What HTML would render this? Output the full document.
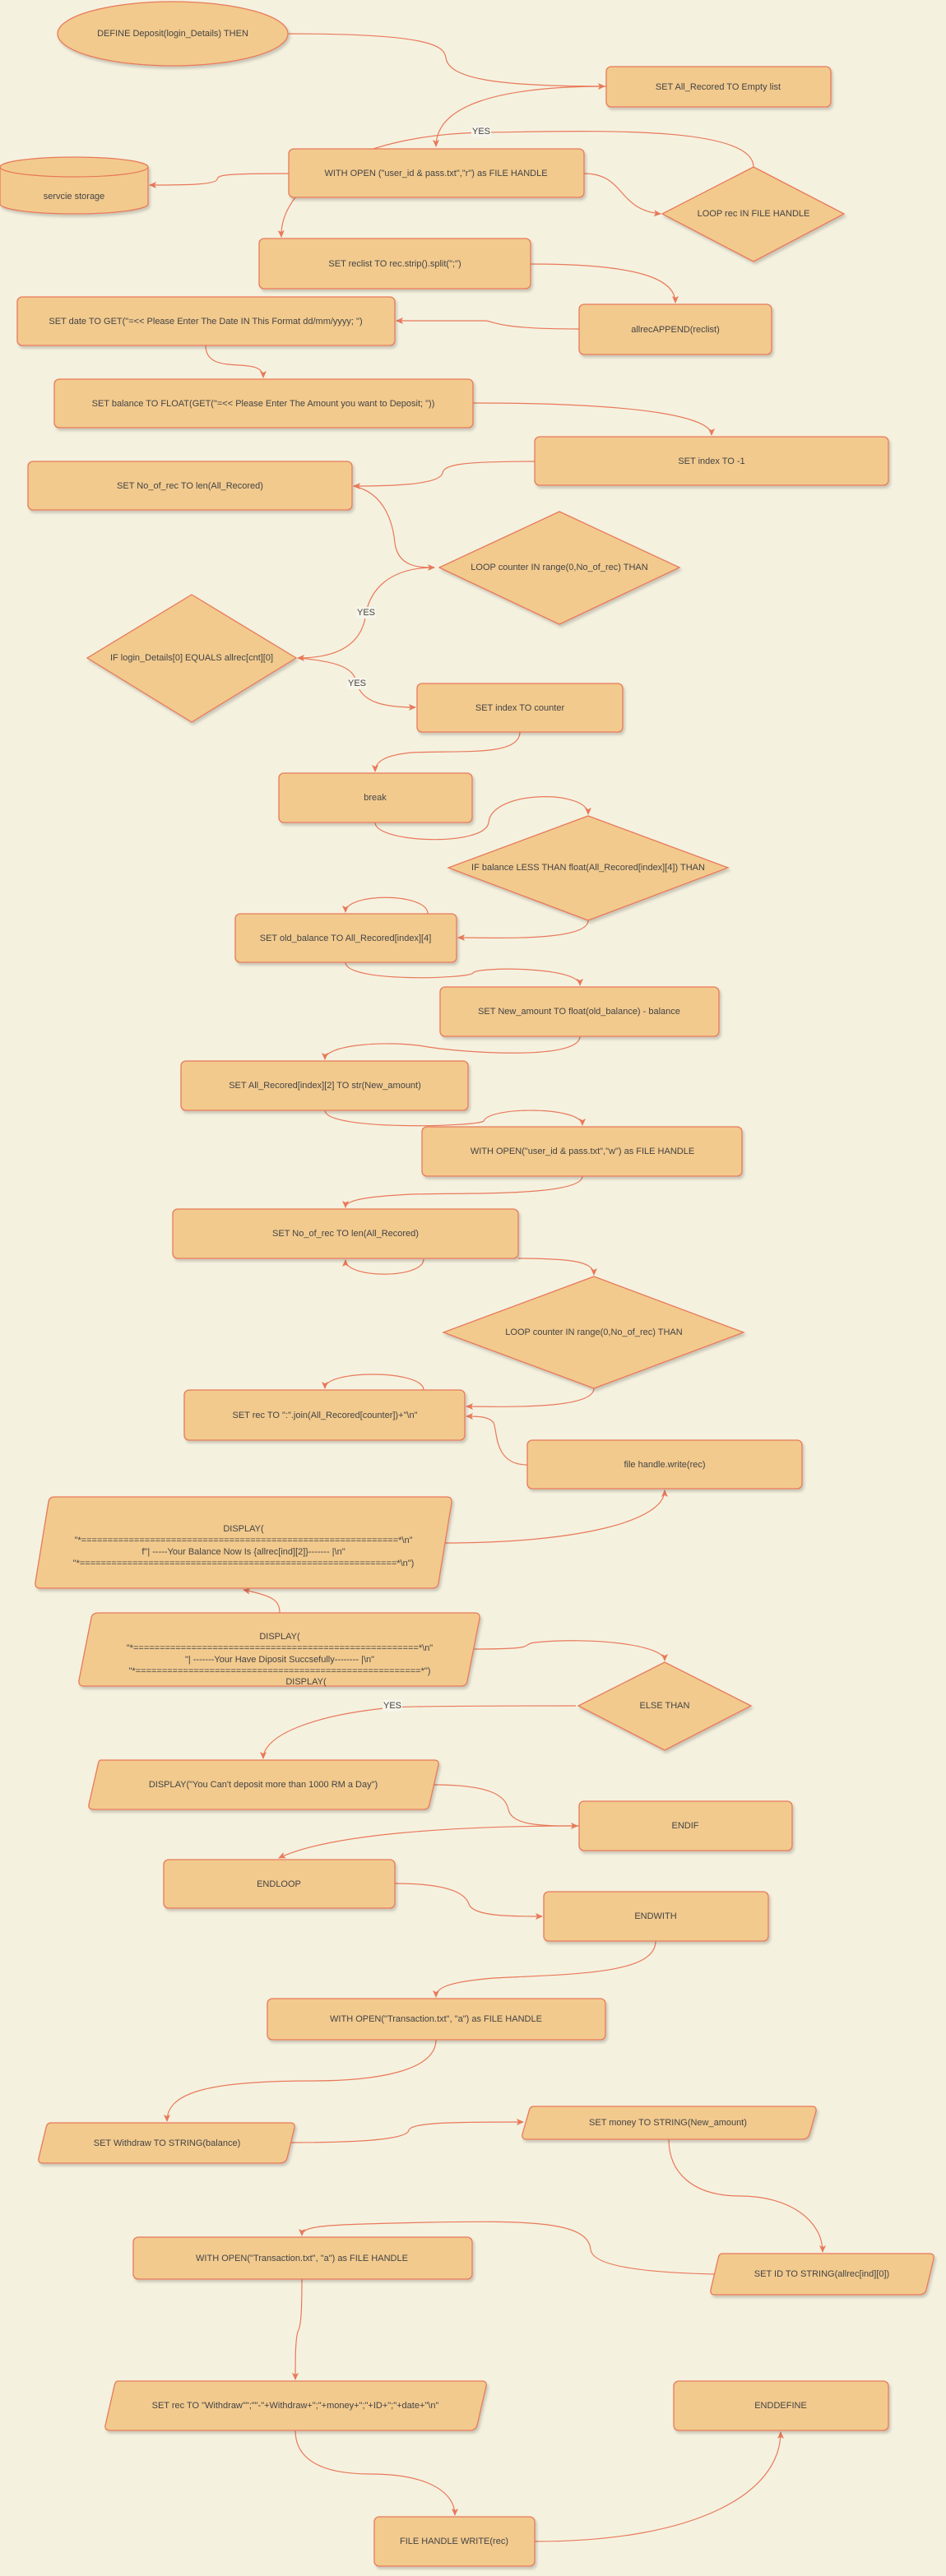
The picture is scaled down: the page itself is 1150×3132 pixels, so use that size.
<!DOCTYPE html>
<html><head><meta charset="utf-8"><style>
html,body{margin:0;padding:0;background:#f5f1df;}
svg{display:block}
text{font-family:"Liberation Sans",sans-serif;font-size:11px;fill:#444;text-anchor:middle;dominant-baseline:middle}
.n{fill:#f2ca8e;stroke:#e8795a;stroke-width:1.3;filter:url(#sh)}
.e{fill:none;stroke:#e8795a;stroke-width:1.2;marker-end:url(#ar)}
.y{fill:#f7f4ea}
</style></head><body>
<svg width="1150" height="3132" viewBox="0 0 1150 3132" xmlns="http://www.w3.org/2000/svg">
<defs>
<filter id="sh" x="-10%" y="-10%" width="130%" height="140%"><feDropShadow dx="2" dy="3" stdDeviation="1.5" flood-color="#000" flood-opacity="0.18"/></filter>
<marker id="ar" markerWidth="10" markerHeight="10" refX="8" refY="4" orient="auto" markerUnits="userSpaceOnUse"><path d="M0,0 L9,4 L0,8 L2,4 Z" fill="#e8795a"/></marker>
</defs>

<!-- edges -->
<path class="e" d="M351,41 C520,41 540,55 542,70 C545,95 600,105 735,105"/>
<path class="e" d="M737,105 C600,105 530,130 530,178"/>
<path class="e" d="M351,211 C270,211 265,213 264,218 C262,225 220,225 182,225"/>
<path class="e" d="M710,211 C760,211 750,255 803,260"/>
<path class="e" d="M916,203 C916,150 700,160 585,161 C420,165 340,230 342,288"/>
<path class="e" d="M645,321 C780,321 821,340 821,368"/>
<path class="e" d="M704,400 C600,400 600,390 590,390 C560,390 520,390 482,390"/>
<path class="e" d="M250,420 C250,460 320,430 320,459"/>
<path class="e" d="M575,490 C800,490 865,510 865,529"/>
<path class="e" d="M650,561 C560,561 540,565 538,575 C535,590 470,591 430,591"/>
<path class="e" d="M430,591 C470,600 478,640 480,660 C484,690 510,690 528,690"/>
<path class="e" d="M528,690 C470,690 450,720 445,745 C440,790 400,800 362,800"/>
<path class="e" d="M362,800 C420,805 430,815 434,831 C440,855 470,860 505,860"/>
<path class="e" d="M632,890 C632,920 560,912 500,915 C470,918 456,925 456,938"/>
<path class="e" d="M456,1000 C456,1025 590,1030 594,1000 C598,960 715,960 715,990"/>
<path class="e" d="M715,1119 C715,1145 600,1140 557,1140"/>
<path class="e" d="M520,1111 C520,1085 420,1085 420,1109"/>
<path class="e" d="M420,1170 C420,1195 570,1190 575,1183 C580,1175 705,1175 705,1198"/>
<path class="e" d="M705,1260 C705,1290 560,1280 515,1272 C470,1265 395,1270 395,1288"/>
<path class="e" d="M395,1350 C395,1375 580,1370 588,1363 C595,1345 708,1345 708,1368"/>
<path class="e" d="M708,1430 C708,1455 560,1450 500,1452 C440,1455 420,1460 420,1468"/>
<path class="e" d="M515,1531 C515,1555 420,1555 420,1532"/>
<path class="e" d="M630,1530 C700,1530 722,1535 722,1550"/>
<path class="e" d="M722,1688 C722,1715 600,1710 567,1710"/>
<path class="e" d="M515,1690 C515,1665 395,1665 395,1688"/>
<path class="e" d="M641,1781 C600,1781 605,1740 600,1730 C595,1722 580,1722 567,1722"/>
<path class="e" d="M540,1876 C700,1876 808,1850 808,1812"/>
<path class="e" d="M340,1961 C340,1945 330,1940 296,1933"/>
<path class="e" d="M575,2005 C660,2005 630,2000 650,1997 C720,1990 808,2000 808,2019"/>
<path class="e" d="M700,2074 C560,2074 490,2075 477,2076 C380,2085 320,2110 320,2138"/>
<path class="e" d="M528,2170 C600,2170 615,2185 618,2200 C622,2220 660,2220 702,2220"/>
<path class="e" d="M704,2220 C550,2220 400,2230 339,2259"/>
<path class="e" d="M480,2290 C540,2290 565,2300 570,2315 C575,2330 620,2330 659,2330"/>
<path class="e" d="M797,2360 C797,2400 700,2400 600,2405 C540,2410 530,2418 530,2428"/>
<path class="e" d="M530,2480 C530,2520 450,2530 380,2530 C250,2530 203,2545 203,2579"/>
<path class="e" d="M353,2605 C450,2605 495,2600 497,2590 C500,2580 560,2580 636,2580"/>
<path class="e" d="M813,2601 C813,2640 840,2670 900,2670 C960,2670 1000,2700 1000,2738"/>
<path class="e" d="M870,2765 C780,2763 720,2755 718,2735 C715,2700 640,2700 520,2702 C400,2705 367,2705 367,2718"/>
<path class="e" d="M367,2771 C367,2820 365,2830 362,2835 C359,2845 359,2870 359,2893"/>
<path class="e" d="M359,2955 C359,2990 390,3008 450,3008 C520,3008 553,3030 553,3058"/>
<path class="e" d="M650,3090 C850,3090 949,3030 949,2957"/>

<!-- nodes -->
<ellipse class="n" cx="210" cy="41" rx="140" ry="39"/>
<text x="210" y="41">DEFINE  Deposit(login_Details) THEN</text>

<rect class="n" x="737" y="81" width="273" height="49" rx="6"/>
<text x="873" y="106">SET All_Recored TO Empty list</text>

<rect class="n" x="351" y="181" width="359" height="59" rx="6"/>
<text x="530" y="211">WITH  OPEN ("user_id &amp; pass.txt","r") as FILE HANDLE</text>

<path class="n" d="M0,203 A90,12 0 0 1 180,203 L180,248 A90,12 0 0 1 0,248 Z"/>
<path d="M0,203 A90,12 0 0 0 180,203" fill="none" stroke="#e8795a" stroke-width="1.2"/>
<text x="90" y="239">servcie storage</text>

<polygon class="n" points="916,203 1026,260 916,318 805,260"/>
<text x="916" y="260">LOOP rec IN FILE HANDLE</text>

<rect class="n" x="315" y="290" width="330" height="61" rx="6"/>
<text x="480" y="321">SET reclist TO rec.strip().split(";")</text>

<rect class="n" x="21" y="361" width="459" height="59" rx="6"/>
<text x="250" y="391">SET date TO GET("=&lt;&lt; Please Enter The Date IN This Format dd/mm/yyyy; ")</text>

<rect class="n" x="704" y="370" width="234" height="61" rx="6"/>
<text x="821" y="401">allrecAPPEND(reclist)</text>

<rect class="n" x="66" y="461" width="509" height="59" rx="6"/>
<text x="320" y="491">SET balance TO FLOAT(GET("=&lt;&lt; Please Enter The Amount you want to Deposit; "))</text>

<rect class="n" x="650" y="531" width="430" height="59" rx="6"/>
<text x="865" y="561">SET index TO -1</text>

<rect class="n" x="34" y="561" width="394" height="59" rx="6"/>
<text x="231" y="591">SET No_of_rec TO len(All_Recored)</text>

<polygon class="n" points="680,622 826,690 680,759 534,690"/>
<text x="680" y="690">LOOP counter IN range(0,No_of_rec) THAN</text>

<polygon class="n" points="233,723 360,800 233,878 106,800"/>
<text x="233" y="800">IF login_Details[0] EQUALS allrec[cnt][0]</text>

<rect class="n" x="507" y="831" width="250" height="59" rx="6"/>
<text x="632" y="861">SET index TO counter</text>

<rect class="n" x="339" y="940" width="235" height="60" rx="6"/>
<text x="456" y="970">break</text>

<polygon class="n" points="715,992 885,1055 715,1119 545,1055"/>
<text x="715" y="1055">IF balance LESS THAN float(All_Recored[index][4]) THAN</text>

<rect class="n" x="286" y="1111" width="269" height="59" rx="6"/>
<text x="420" y="1141">SET old_balance TO All_Recored[index][4]</text>

<rect class="n" x="535" y="1200" width="339" height="60" rx="6"/>
<text x="704" y="1230">SET New_amount TO float(old_balance) - balance</text>

<rect class="n" x="220" y="1290" width="349" height="60" rx="6"/>
<text x="395" y="1320">SET All_Recored[index][2] TO str(New_amount)</text>

<rect class="n" x="513" y="1370" width="389" height="60" rx="6"/>
<text x="708" y="1400">WITH  OPEN("user_id &amp; pass.txt","w") as FILE HANDLE</text>

<rect class="n" x="210" y="1470" width="420" height="60" rx="6"/>
<text x="420" y="1500">SET No_of_rec TO len(All_Recored)</text>

<polygon class="n" points="722,1552 904,1620 722,1688 539,1620"/>
<text x="722" y="1620">LOOP counter IN range(0,No_of_rec) THAN</text>

<rect class="n" x="224" y="1690" width="341" height="61" rx="6"/>
<text x="395" y="1721">SET rec TO ":".join(All_Recored[counter])+"\n"</text>

<rect class="n" x="641" y="1751" width="334" height="59" rx="6"/>
<text x="808" y="1781">file handle.write(rec)</text>

<path class="n" d="M66,1820 L543,1820 Q550,1820 549,1827 L533,1925 Q532,1931 525,1931 L49,1931 Q42,1931 43,1924 L59,1826 Q60,1820 66,1820 Z"/>
<text x="296" y="1859">DISPLAY(</text>
<text x="296" y="1873">"*============================================================*\n"</text>
<text x="296" y="1887">f"| -----Your Balance Now Is {allrec[ind][2]}------- |\n"</text>
<text x="296" y="1901">"*============================================================*\n")</text>

<path class="n" d="M120,1961 L577,1961 Q584,1961 583,1968 L568,2044 Q567,2050 560,2050 L102,2050 Q95,2050 96,2043 L111,1967 Q112,1961 120,1961 Z"/>
<text x="340" y="1990">DISPLAY(</text>
<text x="340" y="2004">"*======================================================*\n"</text>
<text x="340" y="2018">"| -------Your Have Diposit Succsefully-------- |\n"</text>
<text x="340" y="2032">"*======================================================*")</text>
<text x="372" y="2046" style="display:none"></text>
<text x="372" y="2045">DISPLAY(</text>

<polygon class="n" points="808,2021 913,2074 808,2128 703,2074"/>
<text x="808" y="2074">ELSE THAN</text>

<path class="n" d="M122,2140 L528,2140 Q534,2140 533,2146 L522,2194 Q521,2200 514,2200 L114,2200 Q107,2200 108,2194 L119,2146 Q120,2140 122,2140 Z"/>
<text x="320" y="2170">DISPLAY("You Can't deposit more than 1000 RM a Day")</text>

<rect class="n" x="704" y="2190" width="259" height="60" rx="6"/>
<text x="833" y="2220">ENDIF</text>

<rect class="n" x="199" y="2261" width="281" height="59" rx="6"/>
<text x="339" y="2291">ENDLOOP</text>

<rect class="n" x="661" y="2300" width="273" height="60" rx="6"/>
<text x="797" y="2330">ENDWITH</text>

<rect class="n" x="325" y="2430" width="411" height="50" rx="6"/>
<text x="530" y="2455">WITH  OPEN("Transaction.txt", "a") as FILE HANDLE</text>

<path class="n" d="M62,2581 L353,2581 Q359,2581 358,2587 L349,2624 Q347,2630 340,2630 L52,2630 Q46,2630 47,2624 L56,2587 Q57,2581 62,2581 Z"/>
<text x="203" y="2606">SET Withdraw TO STRING(balance)</text>

<path class="n" d="M649,2561 L987,2561 Q993,2561 992,2567 L984,2595 Q982,2601 975,2601 L640,2601 Q634,2601 635,2595 L643,2567 Q644,2561 649,2561 Z"/>
<text x="812" y="2581">SET money TO STRING(New_amount)</text>

<rect class="n" x="162" y="2720" width="412" height="51" rx="6"/>
<text x="367" y="2746">WITH  OPEN("Transaction.txt", "a") as FILE HANDLE</text>

<path class="n" d="M878,2740 L1130,2740 Q1136,2740 1135,2746 L1126,2784 Q1124,2790 1117,2790 L869,2790 Q863,2790 864,2784 L873,2746 Q874,2740 878,2740 Z"/>
<text x="999" y="2765">SET ID TO STRING(allrec[ind][0])</text>

<path class="n" d="M143,2895 L586,2895 Q592,2895 591,2901 L580,2949 Q578,2955 571,2955 L134,2955 Q127,2955 128,2949 L139,2901 Q140,2895 143,2895 Z"/>
<text x="359" y="2925">SET rec TO "Withdraw"";""-"+Withdraw+";"+money+";"+ID+";"+date+"\n"</text>

<rect class="n" x="819" y="2895" width="261" height="60" rx="6"/>
<text x="949" y="2925">ENDDEFINE</text>

<rect class="n" x="455" y="3060" width="195" height="60" rx="6"/>
<text x="552" y="3090">FILE HANDLE WRITE(rec)</text>

<!-- labels -->
<rect class="y" x="573" y="153" width="24" height="14"/><text x="585" y="160">YES</text>
<rect class="y" x="433" y="738" width="24" height="14"/><text x="445" y="745">YES</text>
<rect class="y" x="422" y="824" width="24" height="14"/><text x="434" y="831">YES</text>
<rect class="y" x="465" y="2067" width="24" height="14"/><text x="477" y="2074">YES</text>
</svg>
</body></html>
